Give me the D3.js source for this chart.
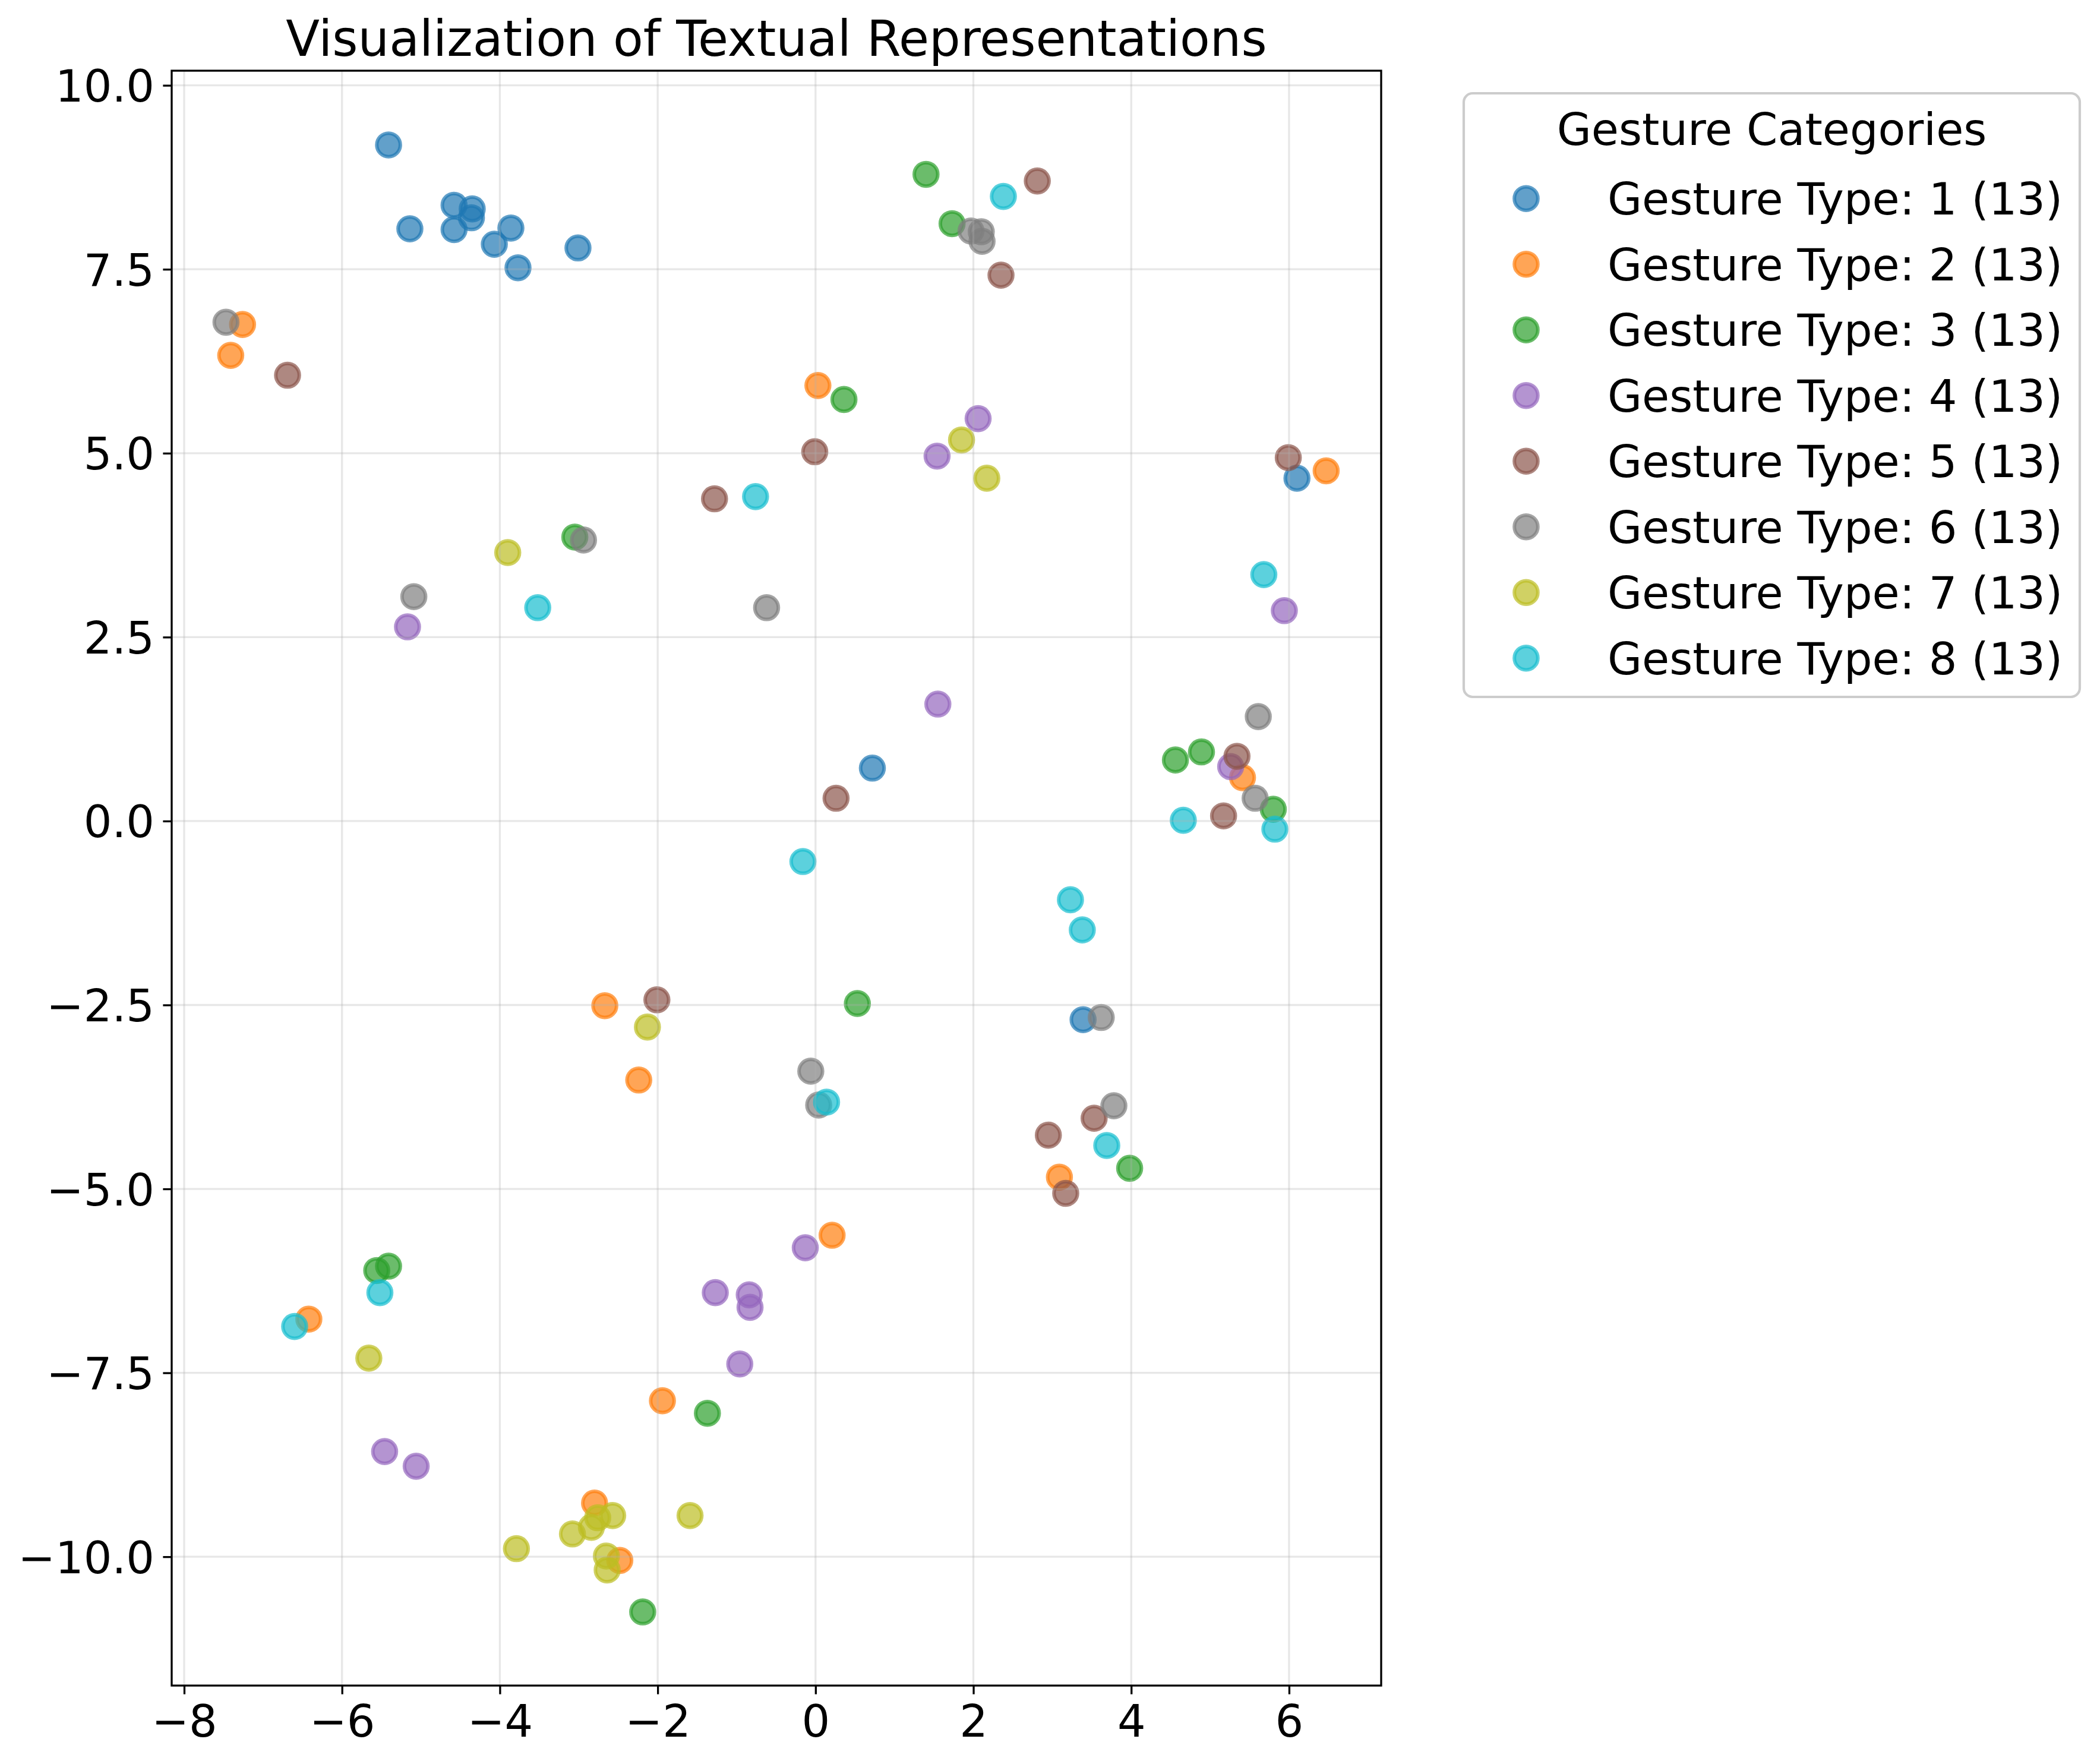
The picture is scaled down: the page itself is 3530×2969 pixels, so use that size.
<!DOCTYPE html>
<html>
<head>
<meta charset="utf-8">
<script src="https://cdn.jsdelivr.net/npm/d3@7"></script>
<style>
  html, body { margin: 0; padding: 0; background: #ffffff; }
  svg { display: block; }
  text { font-family: "DejaVu Sans", sans-serif; }
</style>
</head>
<body>
<svg id="chart" width="3530" height="2969"></svg>
<script>
// ---------------- data ----------------
const categories = ["Gesture Type: 1", "Gesture Type: 2", "Gesture Type: 3", "Gesture Type: 4",
                    "Gesture Type: 5", "Gesture Type: 6", "Gesture Type: 7", "Gesture Type: 8"];
const colors = ["#1f77b4", "#ff7f0e", "#2ca02c", "#9467bd", "#8c564b", "#7f7f7f", "#bcbd22", "#17becf"];

const type1X = [-5.41, -4.58, -4.35, -4.36, -5.14, -4.58, -3.86, -4.07, -3.77, -3.01, 6.10, 0.72, 3.39];
const type1Y = [ 9.19,  8.37,  8.32,  8.20,  8.05,  8.04,  8.06,  7.84,  7.52,  7.79, 4.66, 0.72, -2.70];

const type2X = [-7.26, -7.41, 0.03, 6.47, 5.41, -2.67, -2.24, 3.09, 0.21, -6.42, -1.94, -2.80, -2.48];
const type2Y = [ 6.75,  6.33, 5.92, 4.76, 0.59, -2.51, -3.52, -4.84, -5.63, -6.77, -7.88, -9.27, -10.05];

const type3X = [1.40, 1.73, 0.36, -3.05, 4.56, 4.89, 5.80, 0.53, 3.98, -5.41, -5.56, -1.37, -2.19];
const type3Y = [8.79, 8.12, 5.73,  3.86, 0.83, 0.94, 0.16, -2.48, -4.72, -6.05, -6.11, -8.05, -10.75];

const type4X = [2.06, 1.54, -5.17, 5.94, 1.55, 5.26, -0.13, -1.27, -0.84, -0.83, -0.96, -5.46, -5.06];
const type4Y = [5.47, 4.96,  2.64, 2.86, 1.59, 0.74, -5.80, -6.41, -6.44, -6.61, -7.38, -8.57, -8.77];

const type5X = [-6.69, 2.81, 2.35, -0.01, 5.99, -1.28, 0.26, 5.34, 5.17, -2.01, 3.53, 2.95, 3.17];
const type5Y = [ 6.06, 8.70, 7.42,  5.02, 4.94,  4.38, 0.31, 0.88, 0.07, -2.43, -4.04, -4.27, -5.06];

const type6X = [-7.47, 1.97, 2.10, 2.11, -2.94, -5.09, -0.62, 5.61, 5.57, 3.62, -0.06, 0.04, 3.78];
const type6Y = [ 6.78, 8.02, 8.01, 7.88,  3.82,  3.05,  2.90, 1.42, 0.31, -2.67, -3.40, -3.86, -3.87];

const type7X = [1.85, 2.17, -3.90, -2.13, -5.66, -2.57, -2.76, -2.84, -3.08, -1.59, -3.79, -2.65, -2.64];
const type7Y = [5.18, 4.66,  3.65, -2.80, -7.30, -9.44, -9.47, -9.60, -9.69, -9.44, -9.89, -9.99, -10.18];

const type8X = [2.38, -0.76, -3.52, 5.68, 4.66, 5.82, -0.16, 3.23, 3.38, 0.14, 3.69, -5.52, -6.60];
const type8Y = [8.49,  4.41,  2.90, 3.35, 0.01, -0.11, -0.55, -1.07, -1.48, -3.82, -4.41, -6.41, -6.87];

const xTicks = [-8, -6, -4, -2, 0, 2, 4, 6];
const yTicks = [-10, -7.5, -5, -2.5, 0, 2.5, 5, 7.5, 10];
const xLimits = [-8.158, 7.167];
const yLimits = [-11.751, 10.199];

const titleText = "Visualization of Textual Representations";
const legendTitle = "Gesture Categories";

// ---------------- build series ----------------
const allX = [type1X, type2X, type3X, type4X, type5X, type6X, type7X, type8X];
const allY = [type1Y, type2Y, type3Y, type4Y, type5Y, type6Y, type7Y, type8Y];
const series = categories.map((name, i) => ({
  name: name,
  color: colors[i],
  points: allX[i].map((x, j) => ({ x: x, y: allY[i][j] }))
}));

// ---------------- layout ----------------
const svg = d3.select("#chart");
svg.append("rect").attr("width", 3530).attr("height", 2969).attr("fill", "#ffffff");

const plot = { left: 289, right: 2325, top: 119, bottom: 2837 };
const lw = 3.3;
const fontSize = 75;
const markerR = 19.8;
const markerSW = 6;

const x = d3.scaleLinear().domain(xLimits).range([plot.left, plot.right]);
const y = d3.scaleLinear().domain(yLimits).range([plot.bottom, plot.top]);

// points
const pts = svg.append("g").attr("class", "points");
series.forEach(s => {
  pts.selectAll(null)
    .data(s.points)
    .enter()
    .append("circle")
    .attr("cx", d => x(d.x))
    .attr("cy", d => y(d.y))
    .attr("r", markerR)
    .attr("fill", s.color)
    .attr("fill-opacity", 0.7)
    .attr("stroke", s.color)
    .attr("stroke-opacity", 0.7)
    .attr("stroke-width", markerSW);
});

// grid lines drawn above points (matplotlib zorder)
const gridLayer = svg.append("g");
gridLayer.selectAll(null).data(xTicks).enter().append("line")
  .attr("x1", d => x(d)).attr("x2", d => x(d))
  .attr("y1", plot.top).attr("y2", plot.bottom)
  .attr("stroke", "#b0b0b0").attr("stroke-opacity", 0.3).attr("stroke-width", lw);
gridLayer.selectAll(null).data(yTicks).enter().append("line")
  .attr("y1", d => y(d)).attr("y2", d => y(d))
  .attr("x1", plot.left).attr("x2", plot.right)
  .attr("stroke", "#b0b0b0").attr("stroke-opacity", 0.3).attr("stroke-width", lw);

// axes
const xAxis = d3.axisBottom(x).tickValues(xTicks).tickFormat(d3.format("d"))
  .tickSize(14.6).tickPadding(18);
const gx = svg.append("g").attr("transform", `translate(0,${plot.bottom})`).call(xAxis);

const yAxis = d3.axisLeft(y).tickValues(yTicks).tickFormat(d3.format(".1f"))
  .tickSize(14.6).tickPadding(14.4);
const gy = svg.append("g").attr("transform", `translate(${plot.left},0)`).call(yAxis);

[gx, gy].forEach(g => {
  g.select(".domain").remove();
  g.selectAll(".tick line").attr("stroke", "#000").attr("stroke-width", lw);
  g.selectAll(".tick text")
    .attr("fill", "#000")
    .style("font-family", "'DejaVu Sans', sans-serif")
    .style("font-size", fontSize + "px");
});
gy.selectAll(".tick text").attr("dy", "0.36em");

// spines
svg.append("rect")
  .attr("x", plot.left).attr("y", plot.top)
  .attr("width", plot.right - plot.left).attr("height", plot.bottom - plot.top)
  .attr("fill", "none").attr("stroke", "#000").attr("stroke-width", lw);

// title
svg.append("text")
  .attr("x", (plot.left + plot.right) / 2)
  .attr("y", 94)
  .attr("text-anchor", "middle")
  .style("font-size", "83px")
  .attr("fill", "#000")
  .text(titleText);

// legend
const lg = svg.append("g").attr("class", "legend");
const box = { x: 2464, y: 157, w: 1037, h: 1016 };
lg.append("rect")
  .attr("x", box.x).attr("y", box.y).attr("width", box.w).attr("height", box.h)
  .attr("rx", 15).attr("ry", 15)
  .attr("fill", "#ffffff").attr("fill-opacity", 0.8)
  .attr("stroke", "#cccccc").attr("stroke-width", 4.2);

lg.append("text")
  .attr("x", box.x + box.w / 2)
  .attr("y", 244)
  .attr("text-anchor", "middle")
  .style("font-size", fontSize + "px")
  .attr("fill", "#000")
  .text(legendTitle);

const rowY0 = 334.2, rowStep = 110.5;
const items = lg.selectAll(".item").data(series).enter().append("g")
  .attr("class", "item")
  .attr("transform", (d, i) => `translate(0,${rowY0 + i * rowStep})`);
items.append("circle")
  .attr("cx", 2569).attr("cy", 0).attr("r", markerR)
  .attr("fill", d => d.color).attr("fill-opacity", 0.7)
  .attr("stroke", d => d.color).attr("stroke-opacity", 0.7)
  .attr("stroke-width", markerSW);
items.append("text")
  .attr("x", 2706).attr("y", 0).attr("dy", "0.36em")
  .style("font-size", fontSize + "px")
  .attr("fill", "#000")
  .text(d => `${d.name} (${d.points.length})`);
</script>
</body>
</html>
